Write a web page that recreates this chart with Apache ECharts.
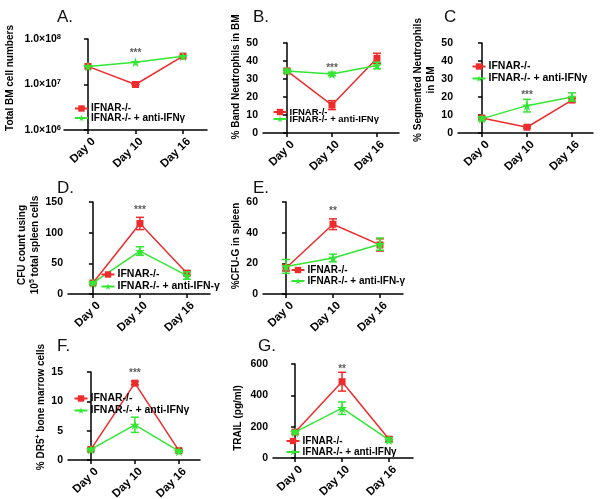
<!DOCTYPE html>
<html><head><meta charset="utf-8">
<script src="https://cdn.jsdelivr.net/npm/echarts@6/dist/echarts.min.js"></script>
<style>html,body{margin:0;padding:0;background:#fff}#c{width:600px;height:499px}</style>
</head><body><div id="c"></div>
<script>
const categories = ['Day 0', 'Day 10', 'Day 16'];
const redName = 'IFNAR-/-';
const greenName = 'IFNAR-/- + anti-IFNγ';
const greenNameDash = 'IFNAR-/- + anti-IFN-γ';
const logTickLabelsA = ['{a|1.0×10}{s|6}', '{a|1.0×10}{s|7}', '{a|1.0×10}{s|8}'];

// Panel A: Total BM cell numbers (log)
const A_red = [2.5e7, 1.0e7, 4.2e7];
const A_redErr = [0, 0, 0];
const A_green = [2.5e7, 3.1e7, 4.2e7];
const A_greenErr = [0, 0, 0];
// Panel B: % Band Neutrophils
const B_red = [34.5, 15.5, 41.5];
const B_redErr = [1, 2.5, 2.8];
const B_green = [34.5, 32.8, 37.5];
const B_greenErr = [1, 1, 1.8];
// Panel C: % Segmented Neutrophils
const C_red = [8.3, 3.2, 18.3];
const C_redErr = [0.5, 0.5, 1];
const C_green = [8, 15.2, 20];
const C_greenErr = [1, 3.5, 2.3];
// Panel D: CFU count
const D_red = [18, 115, 34];
const D_redErr = [2, 10, 4];
const D_green = [18, 70, 30];
const D_greenErr = [2, 7, 6];
// Panel E: %CFU-G
const E_red = [17, 45.5, 32];
const E_redErr = [2, 3.5, 4];
const E_green = [18, 23.5, 32.5];
const E_greenErr = [4.5, 2.5, 4];
// Panel F: % DR5+
const F_red = [1.8, 13.1, 1.6];
const F_redErr = [0.2, 0.3, 0.2];
const F_green = [1.8, 6.0, 1.5];
const F_greenErr = [0.2, 1.3, 0.2];
// Panel G: TRAIL
const G_red = [165, 487, 120];
const G_redErr = [10, 60, 15];
const G_green = [165, 318, 115];
const G_greenErr = [10, 40, 15];

const sigLabels = ['***', '***', '***', '***', '**', '***', '**'];
const sigY = [4.9e7, 36.1, 21.1, 137, 54.1, 14.8, 568];

const RED = '#ee2c2c', GREEN = '#33e633';
const FONT = '"Liberation Sans", Arial, sans-serif';
const STAR = 'path://M50,0 L61,35 L98,35 L68,57 L79,91 L50,70 L21,91 L32,57 L2,35 L39,35 Z';

const panels = [
  {title:'A.', tl:52, tt:4, grid:[64,39,143,91], xr:[-0.505,2.505], y:{type:'log',min:1e6,max:1e8},
   name:'Total BM cell numbers', gap:47, npad:[0,0,0,13],
   red:A_red, redErr:A_redErr, green:A_green, greenErr:A_greenErr, gname:greenName,
   leg:[74,103.5,10,-0.5]},
  {title:'B.', tl:248, tt:4, grid:[263,43,136,90], xr:[-0.533,2.49], y:{min:0,max:50,interval:10},
   name:'% Band Neutrophils in BM', gap:17, npad:[0,0,0,22],
   red:B_red, redErr:B_redErr, green:B_green, greenErr:B_greenErr, gname:greenName,
   leg:[272.5,107,9.5,-3]},
  {title:'C', tl:439, tt:4, grid:[458,43,135,90], xr:[-0.533,2.467], y:{min:0,max:50,interval:10},
   name:'% Segmented Neutrophils\nin BM', gap:18, npad:[0,0,0,16],
   red:C_red, redErr:C_redErr, green:C_green, greenErr:C_greenErr, gname:greenName,
   leg:[471.5,61,10.5,1]},
  {title:'D.', tl:52, tt:175, grid:[68,202,142,92], xr:[-0.53,2.49], y:{min:0,max:150,interval:50},
   name:'{n|CFU count using}\n{n|10}{s|5}{n| total spleen cells}', gap:23, npad:[0,0,0,6],
   red:D_red, redErr:D_redErr, green:D_green, greenErr:D_greenErr, gname:greenNameDash,
   leg:[100.5,269,10.5,1]},
  {title:'E.', tl:248, tt:175, grid:[263,202,140,92], xr:[-0.49,2.49], y:{min:0,max:60,interval:20},
   name:'%CFU-G in spleen', gap:18, npad:[0,0,0,4],
   red:E_red, redErr:E_redErr, green:E_green, greenErr:E_greenErr, gname:greenNameDash,
   leg:[290.5,265,10,1]},
  {title:'F.', tl:52, tt:333, grid:[68,372,132,88], xr:[-0.52,2.48], y:{min:0,max:15,interval:5},
   name:'{n|% DR5}{s|+}{n| bone marrow cells}', gap:16, npad:[0,0,0,18],
   red:F_red, redErr:F_redErr, green:F_green, greenErr:F_greenErr, gname:greenName,
   leg:[73.5,393,10.5,1]},
  {title:'G.', tl:253, tt:333, grid:[273,364,140,94], xr:[-0.47,2.51], y:{min:0,max:600,interval:200},
   name:'TRAIL (pg/ml)', gap:28, npad:[0,14,0,0],
   red:G_red, redErr:G_redErr, green:G_green, greenErr:G_greenErr, gname:greenName,
   leg:[285.5,436,10,1]}
];

function errRender(color) {
  return function (params, api) {
    const x = api.value(0), lo = api.value(1), hi = api.value(2);
    const p1 = api.coord([x, lo]), p2 = api.coord([x, hi]);
    const w = 4;
    const st = {stroke: color, lineWidth: 1.5};
    return {type: 'group', children: [
      {type: 'line', shape: {x1: p1[0], y1: p1[1], x2: p2[0], y2: p2[1]}, style: st},
      {type: 'line', shape: {x1: p1[0] - w, y1: p1[1], x2: p1[0] + w, y2: p1[1]}, style: st},
      {type: 'line', shape: {x1: p2[0] - w, y1: p2[1], x2: p2[0] + w, y2: p2[1]}, style: st}
    ]};
  };
}

const richName = {
  n: {fontSize: 10, fontWeight: 'bold', color: '#000', fontFamily: FONT, lineHeight: 13},
  s: {fontSize: 7, fontWeight: 'bold', color: '#000', fontFamily: FONT, verticalAlign: 'top', lineHeight: 13, padding: [0, 0, 5, 0]}
};

const option = {animation: false, title: [], grid: [], xAxis: [], yAxis: [], legend: [], series: []};

panels.forEach((p, i) => {
  option.title.push({text: p.title, left: p.tl, top: p.tt,
    textStyle: {fontSize: 17, fontWeight: 'normal', color: '#111', fontFamily: FONT}});
  option.grid.push({left: p.grid[0], top: p.grid[1], width: p.grid[2], height: p.grid[3],
    containLabel: false, outerBoundsMode: 'none'});
  option.xAxis.push({type: 'value', gridIndex: i, min: p.xr[0], max: p.xr[1],
    axisLine: {show: true, onZero: false, lineStyle: {color: '#000', width: 1.5}},
    axisTick: {show: true, customValues: [0, 1, 2], length: 4, lineStyle: {color: '#000', width: 1.5}},
    axisLabel: {show: true, customValues: [0, 1, 2], rotate: 45, margin: 4, verticalAlign: 'top', lineHeight: 16,
      formatter: v => categories[Math.round(v)], fontWeight: 'bold', fontSize: 11.5, color: '#000', fontFamily: FONT},
    splitLine: {show: false}});
  const ya = {gridIndex: i, type: p.y.type || 'value', min: p.y.min, max: p.y.max,
    axisLine: {show: true, lineStyle: {color: '#000', width: 1.5}},
    axisTick: {show: true, length: 4, lineStyle: {color: '#000', width: 1.5}},
    axisLabel: {show: true, margin: 5, fontWeight: 'bold', fontSize: 10.5, color: '#000', fontFamily: FONT},
    splitLine: {show: false}, minorTick: {show: false},
    name: p.name, nameLocation: 'middle', nameGap: p.gap,
    nameTextStyle: {fontWeight: 'bold', fontSize: 10, color: '#000', fontFamily: FONT, padding: p.npad, lineHeight: 13, rich: richName}};
  if (p.y.type === 'log') {
    ya.logBase = 10;
    ya.axisLabel.margin = 3;
    ya.axisLabel.formatter = v => logTickLabelsA[Math.round(Math.log10(v)) - 6];
    ya.axisLabel.rich = {
      a: {fontSize: 10.5, fontWeight: 'bold', color: '#000', fontFamily: FONT, lineHeight: 13},
      s: {fontSize: 7.5, fontWeight: 'bold', color: '#000', fontFamily: FONT, verticalAlign: 'top', lineHeight: 13, padding: [0, 0, 5, 0]}
    };
  } else {
    ya.interval = p.y.interval;
  }
  option.yAxis.push(ya);
  option.legend.push({orient: 'vertical', left: p.leg[0], top: p.leg[1], itemWidth: 13, itemHeight: 8,
    itemGap: p.leg[3], padding: 0, selectedMode: false, data: [redName, p.gname],
    textStyle: {fontSize: p.leg[2], fontWeight: 'bold', color: '#000', fontFamily: FONT, padding: [0, 0, 0, -2]}});

  const mk = arr => arr.map((v, k) => [k, v]);
  const ek = (arr, err) => arr.map((v, k) => [k, v - err[k], v + err[k]]);
  option.series.push({type: 'line', name: redName, xAxisIndex: i, yAxisIndex: i, data: mk(p.red),
    symbol: 'rect', symbolSize: 7, lineStyle: {color: RED, width: 1.5}, itemStyle: {color: RED}, z: 2});
  option.series.push({type: 'custom', xAxisIndex: i, yAxisIndex: i, data: ek(p.red, p.redErr),
    renderItem: errRender(RED), z: 2, silent: true});
  option.series.push({type: 'line', name: p.gname, xAxisIndex: i, yAxisIndex: i, data: mk(p.green),
    symbol: STAR, symbolSize: 10, lineStyle: {color: GREEN, width: 1.5}, itemStyle: {color: GREEN}, z: 3});
  option.series.push({type: 'custom', xAxisIndex: i, yAxisIndex: i, data: ek(p.green, p.greenErr),
    renderItem: errRender(GREEN), z: 3, silent: true});
  option.series.push({type: 'scatter', xAxisIndex: i, yAxisIndex: i, data: [[1, sigY[i]]],
    symbolSize: 1, itemStyle: {color: 'rgba(0,0,0,0)'}, silent: true,
    label: {show: true, position: 'inside', formatter: sigLabels[i], fontSize: 10, fontWeight: 'bold', color: '#333', fontFamily: FONT}});
});

const chart = echarts.init(document.getElementById('c'), null, {renderer: 'canvas'});
chart.setOption(option);
</script></body></html>
